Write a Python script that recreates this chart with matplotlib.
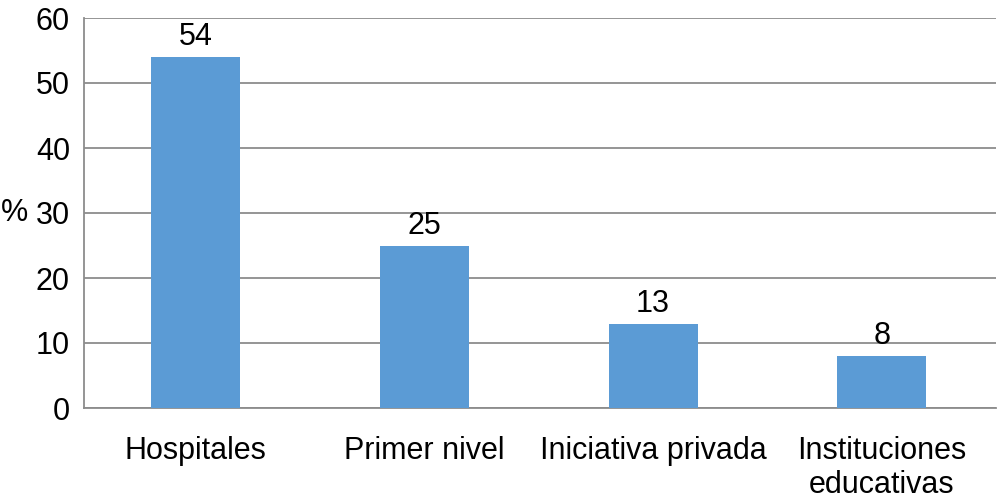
import matplotlib.pyplot as plt

plt.rcParams["font.family"] = ["Liberation Sans", "DejaVu Sans"]

categories = ["Hospitales", "Primer nivel", "Iniciativa privada", "Instituciones\neducativas"]
values = [54, 25, 13, 8]

fig = plt.figure(figsize=(9.98, 5), dpi=100)
ax = fig.add_axes([0.084, 0.184, 0.914, 0.78])

x = range(len(categories))
ax.bar(x, values, width=0.39, color="#5b9bd5", zorder=3)
for i, v in enumerate(values):
    ax.text(i, v + 0.7, str(v), ha="center", va="bottom", fontsize=22)

ax.set_ylim(0, 60)
ax.set_xlim(-0.49, 3.5)
ax.set_yticks(range(0, 61, 10))
ax.set_xticks(list(x))
ax.set_xticklabels(categories, fontsize=22, linespacing=1.2)
ax.tick_params(axis="y", labelsize=22, length=0, pad=10)
ax.tick_params(axis="x", length=0, pad=20)
ax.yaxis.grid(True, color="#8c8c8c", linewidth=1.3, zorder=0)
for s in ["top", "right"]:
    ax.spines[s].set_visible(False)
for s in ["left", "bottom"]:
    ax.spines[s].set_color("#8c8c8c")
    ax.spines[s].set_linewidth(1.3)

fig.text(0.001, 0.574, "%", fontsize=22, ha="left", va="center")

fig.savefig("out.png", dpi=100)
